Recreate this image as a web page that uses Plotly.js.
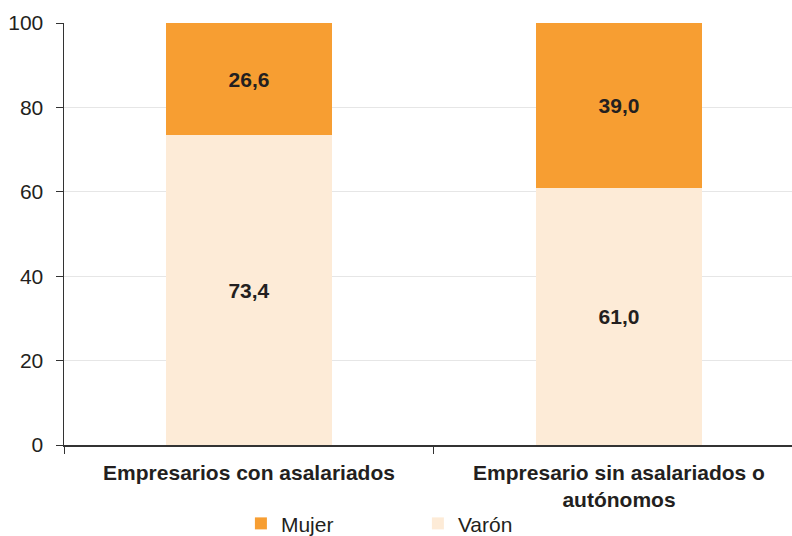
<!DOCTYPE html>
<html><head><meta charset="utf-8">
<script src="https://cdn.plot.ly/plotly-3.0.1.min.js"></script>
<style>body{margin:0}#c{width:792px;height:536px}</style>
</head><body><div id="c"></div>
<script>
const categories = ["Empresarios con asalariados", "Empresario sin asalariados o<br>autónomos"];
const varon = [73.4, 61.0];
const mujer = [26.6, 39.0];
const yTicks = [0, 20, 40, 60, 80, 100];
const fmt = v => v.toFixed(1).replace('.', ',');
const font = "Liberation Sans, Arial, Helvetica, sans-serif";
const traces = [
  {type:'bar', name:'Varón', x:categories, y:varon, marker:{color:'#FDEBD7'},
   text:varon.map(fmt), textposition:'inside', insidetextanchor:'middle',
   textfont:{family:font, size:21, color:'#231f20', weight:'bold'}, hoverinfo:'none'},
  {type:'bar', name:'Mujer', x:categories, y:mujer, marker:{color:'#F79E32'},
   text:mujer.map(fmt), textposition:'inside', insidetextanchor:'middle',
   textfont:{family:font, size:21, color:'#231f20', weight:'bold'}, hoverinfo:'none'}
];
const layout = {
  width:792, height:536, margin:{l:64, r:0, t:23, b:91, autoexpand:false},
  barmode:'stack', bargap:0.55,
  paper_bgcolor:'#fff', plot_bgcolor:'#fff',
  font:{family:font, size:21, color:'#231f20'},
  xaxis:{range:[-0.5, 1.4676], tickson:'boundaries', ticks:'outside', ticklen:7, tickcolor:'#333',
    showline:true, linecolor:'#333', linewidth:1.5, showgrid:false,
    tickfont:{family:font, size:21, color:'#231f20', weight:'bold'}, ticklabelstandoff:8},
  yaxis:{range:[0,100], tickvals:yTicks, ticks:'outside', ticklen:7, tickcolor:'#333',
    showline:true, linecolor:'#333', linewidth:1.5, gridcolor:'#e6e6e6', zeroline:false,
    tickfont:{family:font, size:21, color:'#231f20'}, ticklabelstandoff:8},
  showlegend:true,
  legend:{orientation:'h', traceorder:'reversed', x:0.243, xanchor:'left', y:-0.138, yanchor:'top',
    bgcolor:'rgba(0,0,0,0)', entrywidth:132, font:{family:font, size:21, color:'#231f20'}}
};
Plotly.newPlot('c', traces, layout, {displayModeBar:false, staticPlot:true});
</script></body></html>
